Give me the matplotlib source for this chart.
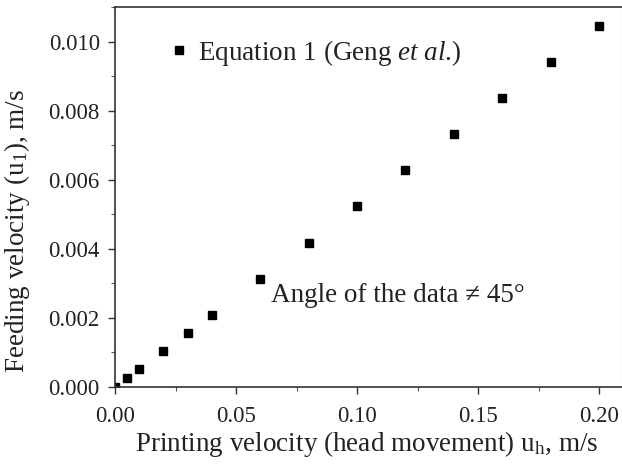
import numpy as np
import matplotlib
matplotlib.use('Agg')
import matplotlib.pyplot as plt
from matplotlib.ticker import MultipleLocator

plt.rcParams['font.family'] = ['Liberation Serif', 'DejaVu Serif']
plt.rcParams['mathtext.fontset'] = 'custom'
plt.rcParams['mathtext.rm'] = 'Liberation Serif'
plt.rcParams['mathtext.it'] = 'Liberation Serif:italic'

# data
printing_velocity = [0.0, 0.005, 0.01, 0.02, 0.03, 0.04, 0.06, 0.08,
                     0.10, 0.12, 0.14, 0.16, 0.18, 0.20]
feeding_velocity = [0.0, 0.00026, 0.00052, 0.00105, 0.00157, 0.00209, 0.00314,
                    0.00418, 0.00523, 0.00628, 0.00732, 0.00837, 0.00943, 0.01046]
series_label = r'Equation 1 (Geng $\it{et\ al}$.)'
note = 'Angle of the data \u2260 45\u00b0'

text_size = 19.5
fig = plt.figure(figsize=(6.22, 4.66), dpi=100)
ax = fig.add_axes([0.185, 0.17, 0.815, 0.814])

ax.plot(printing_velocity, feeding_velocity, 's', color='black',
        markersize=6.2, clip_on=True, label=series_label)

ax.set_xlim(0, 0.2095)
ax.set_ylim(0, 0.011)
ax.xaxis.set_major_locator(MultipleLocator(0.05))
ax.xaxis.set_minor_locator(MultipleLocator(0.025))
ax.yaxis.set_major_locator(MultipleLocator(0.002))
ax.yaxis.set_minor_locator(MultipleLocator(0.001))
ax.xaxis.set_major_formatter(plt.FormatStrFormatter('%.2f'))
ax.yaxis.set_major_formatter(plt.FormatStrFormatter('%.3f'))

for side in ['left', 'bottom', 'top']:
    ax.spines[side].set_linewidth(1.2)
    ax.spines[side].set_color('#333333')
ax.spines['right'].set_color('#dddddd')

ax.tick_params(which='major', direction='out', length=5, width=1,
               color='#333333', labelsize=16.5, labelcolor='#222222')
ax.tick_params(which='minor', direction='out', length=3, width=0.8,
               color='#555555')
ax.tick_params(axis='y', pad=6)
ax.tick_params(axis='x', pad=9)

ax.set_xlabel(r'Printing velocity (head movement) u$_\mathrm{h}$, m/s',
              fontsize=text_size, color='#222222')
ax.set_ylabel(r'Feeding velocity (u$_1$), m/s',
              fontsize=text_size, color='#222222')
# label placement (axes fraction)
ax.xaxis.set_label_coords(0.497, -0.112)
ax.yaxis.set_label_coords(-0.164, 0.41)

ax.legend(loc='upper left', bbox_to_anchor=(0.056, 0.985), frameon=False,
          fontsize=text_size, handletextpad=0.25, handlelength=0.85,
          labelcolor='#222222')

ax.text(0.117, 0.00265, note, fontsize=text_size, color='#222222',
        ha='center', va='center')

fig.savefig('out.png', dpi=100)
